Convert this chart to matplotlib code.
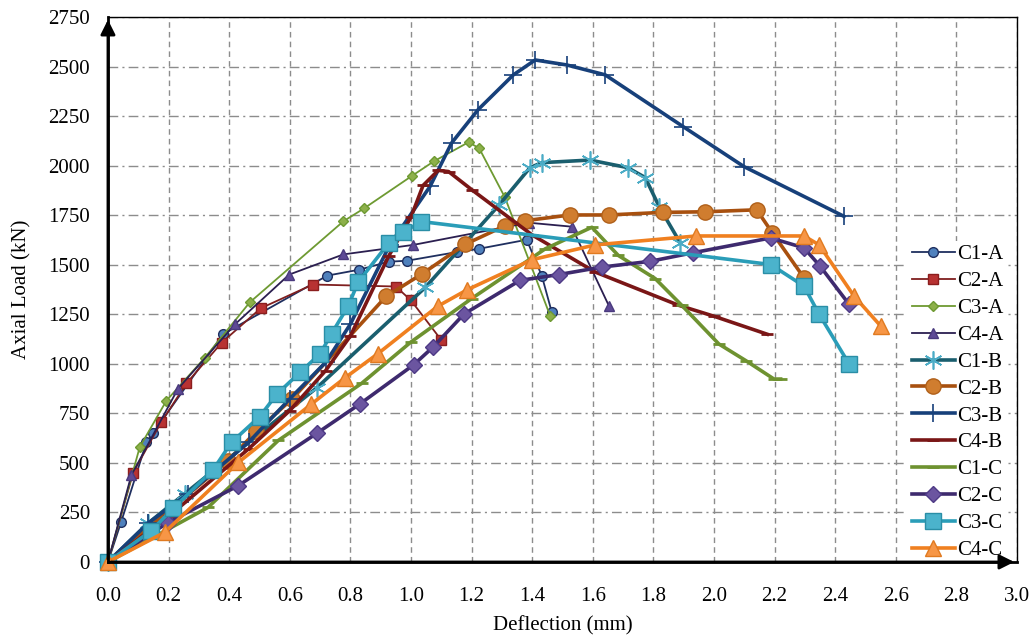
import matplotlib
matplotlib.use("Agg")
import matplotlib.pyplot as plt

plt.rcParams['font.family'] = ['Liberation Serif', 'DejaVu Serif']

# deflection (mm) / axial load (kN)
c1a_x = [0, 0.044, 0.127, 0.149, 0.38, 0.724, 0.83, 0.926, 0.987, 1.152, 1.223, 1.382, 1.432, 1.465]
c1a_y = [0, 204, 604, 650, 1150, 1445, 1475, 1515, 1520, 1564, 1580, 1626, 1443, 1259]

c2a_x = [0, 0.083, 0.176, 0.259, 0.375, 0.504, 0.676, 0.95, 1.0, 1.10]
c2a_y = [0, 450, 706, 901, 1106, 1280, 1400, 1390, 1320, 1120]

c3a_x = [0, 0.105, 0.193, 0.32, 0.468, 0.777, 0.845, 1.004, 1.076, 1.19, 1.225, 1.31, 1.46]
c3a_y = [0, 580, 814, 1031, 1310, 1719, 1784, 1949, 2022, 2118, 2088, 1840, 1240]

c4a_x = [0, 0.077, 0.231, 0.419, 0.598, 0.777, 1.008, 1.388, 1.53, 1.654]
c4a_y = [0, 437, 874, 1199, 1450, 1552, 1600, 1712, 1692, 1290]

c1b_x = [0, 0.132, 0.253, 0.69, 1.047, 1.29, 1.393, 1.432, 1.591, 1.715, 1.773, 1.82, 1.888]
c1b_y = [0, 195, 344, 880, 1385, 1800, 1990, 2015, 2028, 1990, 1940, 1790, 1612]

c2b_x = [0, 0.397, 0.49, 0.608, 0.918, 1.036, 1.179, 1.311, 1.377, 1.525, 1.652, 1.831, 1.971, 2.141, 2.193, 2.297]
c2b_y = [0, 511, 660, 823, 1340, 1453, 1603, 1697, 1722, 1751, 1751, 1764, 1767, 1777, 1660, 1434]

c3b_x = [0, 0.132, 0.264, 0.465, 0.6, 0.72, 0.8, 0.93, 1.063, 1.134, 1.222, 1.338, 1.41, 1.514, 1.641, 1.899, 2.099, 2.429]
c3b_y = [0, 195, 344, 605, 823, 1010, 1200, 1600, 1895, 2114, 2283, 2458, 2533, 2508, 2458, 2196, 1995, 1744]

c4b_x = [0, 0.2, 0.465, 0.6, 0.718, 0.8, 0.926, 1.0, 1.04, 1.09, 1.124, 1.2, 1.4, 1.608, 1.882, 2.0, 2.176]
c4b_y = [0, 230, 572, 764, 965, 1140, 1542, 1740, 1900, 1976, 1970, 1879, 1650, 1463, 1296, 1240, 1149]

c1c_x = [0, 0.33, 0.562, 0.837, 1.0, 1.2, 1.443, 1.597, 1.684, 1.806, 1.893, 2.016, 2.105, 2.198, 2.22]
c1c_y = [0, 275, 613, 901, 1110, 1329, 1580, 1689, 1547, 1430, 1296, 1100, 1016, 923, 923]

c2c_x = [0, 0.198, 0.43, 0.689, 0.832, 1.009, 1.074, 1.175, 1.36, 1.487, 1.63, 1.789, 1.93, 2.187, 2.297, 2.35, 2.446]
c2c_y = [0, 199, 385, 649, 798, 995, 1086, 1251, 1421, 1450, 1488, 1517, 1560, 1635, 1585, 1493, 1300]

c3c_x = [0, 0.143, 0.215, 0.347, 0.408, 0.501, 0.557, 0.634, 0.7, 0.738, 0.793, 0.826, 0.926, 0.975, 1.033, 2.187, 2.297, 2.347, 2.446]
c3c_y = [0, 158, 270, 465, 604, 734, 846, 957, 1050, 1152, 1292, 1413, 1608, 1663, 1718, 1501, 1392, 1250, 999]

c4c_x = [0, 0.187, 0.43, 0.67, 0.783, 0.89, 1.088, 1.185, 1.399, 1.608, 1.942, 2.297, 2.347, 2.462, 2.55]
c4c_y = [0, 149, 502, 795, 930, 1050, 1290, 1373, 1525, 1600, 1645, 1645, 1600, 1342, 1191]

x_ticks = [0.0, 0.2, 0.4, 0.6, 0.8, 1.0, 1.2, 1.4, 1.6, 1.8, 2.0, 2.2, 2.4, 2.6, 2.8, 3.0]
y_ticks = [0, 250, 500, 750, 1000, 1250, 1500, 1750, 2000, 2250, 2500, 2750]

fig = plt.figure(figsize=(10.35, 6.36), dpi=100)
ax = fig.add_axes([0.1043, 0.1164, 0.8783, 0.8569])

thin = 1.3
thick = 2.6

ax.plot(c1a_x, c1a_y, color='#1F2F5F', lw=thin, marker='o', ms=7, mfc='#4F81BD', mec='#1F2F5F', mew=1, label='C1-A', clip_on=False)
ax.plot(c2a_x, c2a_y, color='#7F1F1F', lw=thin, marker='s', ms=7, mfc='#B83232', mec='#8B1E1E', mew=1, label='C2-A', clip_on=False)
ax.plot(c3a_x, c3a_y, color='#6E9A32', lw=thin, marker='D', ms=5, mfc='#8DB04A', mec='#6E9A32', mew=1, label='C3-A', clip_on=False)
ax.plot(c4a_x, c4a_y, color='#2B1F50', lw=thin, marker='^', ms=7, mfc='#5E4A96', mec='#4A3A7E', mew=1, label='C4-A', clip_on=False)
ax.plot(c1b_x, c1b_y, color='#1A5E6E', lw=thick, marker=(6, 2, 0), ms=13, mec='#4BACC6', mew=1.2, label='C1-B', clip_on=False)
ax.plot(c2b_x, c2b_y, color='#A8500F', lw=thick, marker='o', ms=11, mfc='#D07D2F', mec='#B0601A', mew=1, label='C2-B', clip_on=False)
ax.plot(c3b_x, c3b_y, color='#17407A', lw=thick, marker='+', ms=13, mec='#17407A', mew=1.2, label='C3-B', clip_on=False)
ax.plot(c4b_x, c4b_y, color='#7A1616', lw=thick, marker='_', ms=8, mec='#7A1616', mew=2, label='C4-B', clip_on=False)
ax.plot(c1c_x, c1c_y, color='#6E9230', lw=thick, marker='_', ms=8, mec='#6E9230', mew=2, label='C1-C', clip_on=False)
ax.plot(c2c_x, c2c_y, color='#3E2A6E', lw=thick, marker='D', ms=8, mfc='#6B55A0', mec='#4E3A86', mew=1, label='C2-C', clip_on=False)
ax.plot(c3c_x, c3c_y, color='#2A9DB8', lw=thick, marker='s', ms=12, mfc='#4BB3CC', mec='#2A8EA6', mew=1, label='C3-C', clip_on=False)
ax.plot(c4c_x, c4c_y, color='#F08020', lw=thick, marker='^', ms=12, mfc='#F79646', mec='#E07A20', mew=1, label='C4-C', clip_on=False)

ax.set_xlim(0, 3.0)
ax.set_ylim(0, 2750)
ax.set_xticks(x_ticks)
ax.set_xticklabels(['%.1f' % v for v in x_ticks])
ax.set_yticks(y_ticks)
ax.tick_params(axis='x', length=0, pad=18, labelsize=15)
ax.tick_params(axis='y', length=0, pad=13, labelsize=15)

ax.set_axisbelow(True)
ax.yaxis.grid(True, color='#8C8C8C', lw=1.0, linestyle=(0, (7, 3, 1.5, 3)))
ax.xaxis.grid(True, color='#8C8C8C', lw=1.0, linestyle=(0, (4, 3)))

for s in ['top', 'right']:
    ax.spines[s].set_linewidth(1.0)
for s in ['left', 'bottom']:
    ax.spines[s].set_linewidth(2.0)
for s in ax.spines.values():
    s.set_zorder(8)

# arrow heads on the axes
ax.annotate('', xy=(0, 1.0), xytext=(0, 0), xycoords='axes fraction', zorder=9,
            arrowprops=dict(arrowstyle='-|>', color='k', lw=2, mutation_scale=22))
ax.annotate('', xy=(1.0, 0), xytext=(0, 0), xycoords='axes fraction', zorder=9,
            arrowprops=dict(arrowstyle='-|>', color='k', lw=2, mutation_scale=22))

ax.set_xlabel('Deflection (mm)', fontsize=15, labelpad=7)
ax.set_ylabel('Axial Load (kN)', fontsize=15, labelpad=12)

leg = ax.legend(loc='lower right', bbox_to_anchor=(0.990, -0.004), fontsize=15, frameon=True,
                framealpha=1, edgecolor='none', facecolor='white', handlelength=2.1,
                handletextpad=0.1, labelspacing=0.35, borderpad=0.2, borderaxespad=0)
leg.set_zorder(5)

fig.savefig('out.png', dpi=100)
